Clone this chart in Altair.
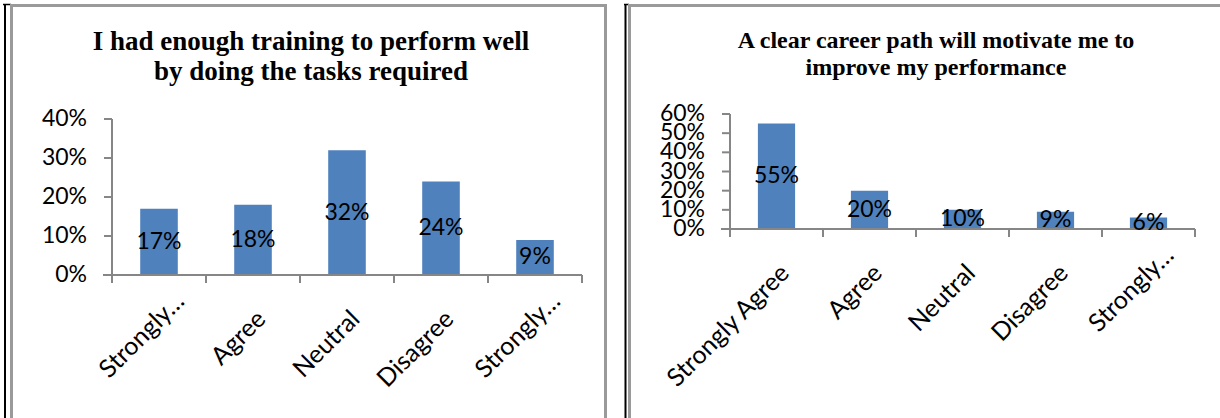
import altair as alt
import pandas as pd

# ---- data ----
categories = ["Strongly Agree", "Agree", "Neutral", "Disagree", "Strongly Disagree"]
training_pct = [17, 18, 32, 24, 9]
career_pct = [55, 20, 10, 9, 6]
training_ticks = [0, 10, 20, 30, 40]
career_ticks = [0, 10, 20, 30, 40, 50, 60]
training_title = ["I had enough training to perform well", "by doing the tasks required"]
career_title = ["A clear career path will motivate me to", "improve my performance"]

W, H = 1220, 418
BAR = "#4F81BD"
AXIS = "#868686"
FONT = "Lato"
SERIF = "Liberation Serif"
FRAME = "#9a9a9a"


def vrule(x, y1, y2, color, width):
    return alt.Chart(alt.Data(values=[{"k": 1}])).mark_rule(
        color=color, strokeWidth=width
    ).encode(x=alt.value(x), y=alt.value(y1), y2=alt.value(y2))


def hrule(x1, x2, y, color, width):
    return alt.Chart(alt.Data(values=[{"k": 1}])).mark_rule(
        color=color, strokeWidth=width
    ).encode(x=alt.value(x1), x2=alt.value(x2), y=alt.value(y))


def text_line(s, cx, base, size):
    return alt.Chart(alt.Data(values=[{"k": 1}])).mark_text(
        font=SERIF, fontWeight="bold", fontSize=size, align="center",
        baseline="alphabetic", color="#000000",
    ).encode(x=alt.value(cx), y=alt.value(base), text=alt.value(s))


def panel(values, ticks, ymax, xr, yr, trunc_test):
    df = pd.DataFrame({"category": categories, "pct": values})
    tdf = pd.DataFrame({"tick": ticks})
    base = alt.Chart(df)
    xscale = alt.Scale(domain=categories, range=xr, paddingInner=0, paddingOuter=0)
    yscale = alt.Scale(domain=[0, ymax], range=yr, nice=False, zero=True)
    xaxis_y = yr[0]

    def xf(**kw):
        return alt.X("category:N", sort=categories, scale=xscale, axis=None, **kw)

    def yf(field):
        return alt.Y(field, scale=yscale, axis=None)

    bars = base.mark_bar(color=BAR, width=alt.RelativeBandSize(0.4)).encode(
        x=xf(), y=yf("pct:Q"),
    )
    xdomain = hrule(xr[0] - 9, xr[1], xaxis_y, AXIS, 2)
    xticks = base.mark_rule(color=AXIS, strokeWidth=2).encode(
        x=xf(bandPosition=0), y=alt.value(xaxis_y), y2=alt.value(xaxis_y + 8),
    )
    xtick_end = base.transform_filter(
        f"datum.category == '{categories[-1]}'"
    ).mark_rule(color=AXIS, strokeWidth=2).encode(
        x=xf(bandPosition=1), y=alt.value(xaxis_y), y2=alt.value(xaxis_y + 8),
    )
    # full labels
    xlabels = base.transform_filter(f"!({trunc_test})").mark_text(
        font=FONT, fontSize=25, color="#000000", angle=315, align="right",
        baseline="middle", dx=6, dy=6,
    ).encode(x=xf(), y=alt.value(xaxis_y + 40), text=alt.Text("category:N"))
    # truncated labels (sit higher and further right, as in the reference)
    xlabels_trunc = base.transform_filter(f"({trunc_test})").transform_calculate(
        lab="'Strongly\u2026'"
    ).mark_text(
        font=FONT, fontSize=25, color="#000000", angle=315, align="right",
        baseline="middle", dx=15, dy=15,
    ).encode(x=xf(), y=alt.value(xaxis_y + 22), text=alt.Text("lab:N"))

    labels = base.transform_calculate(
        mid="datum.pct / 2", txt="datum.pct + '%'"
    ).mark_text(
        font=FONT, fontSize=23, color="#000000", baseline="middle", align="center"
    ).encode(x=xf(), y=yf("mid:Q"), text=alt.Text("txt:N"))

    ydomain = alt.Chart(tdf).mark_rule(color=AXIS, strokeWidth=2).encode(
        x=alt.value(xr[0]),
        y=yf("min(tick):Q"),
        y2=alt.Y2("max(tick):Q"),
    )
    ytick_marks = alt.Chart(tdf).mark_rule(color=AXIS, strokeWidth=2).encode(
        x=alt.value(xr[0] - 8), x2=alt.value(xr[0]), y=yf("tick:Q"),
    )
    ytick_labels = alt.Chart(tdf).transform_calculate(
        txt="datum.tick + '%'"
    ).mark_text(
        font=FONT, fontSize=23, color="#000000", align="right", baseline="middle"
    ).encode(x=alt.value(xr[0] - 25), y=yf("tick:Q"), text=alt.Text("txt:N"))

    return [bars, xdomain, xticks, xtick_end, xlabels, xlabels_trunc, ydomain,
            ytick_marks, ytick_labels, labels]


left_layers = panel(training_pct, training_ticks, 40, [112, 582], [275, 119],
                    "indexof(datum.category, 'Strongly') == 0")
right_layers = panel(career_pct, career_ticks, 60, [730, 1195], [229, 114],
                     "datum.category == 'Strongly Disagree'")

frames = [
    vrule(5, 4, H, "#000000", 2),
    hrule(3, 11, 4.5, "#000000", 1.5),
    vrule(11.5, 4, H, FRAME, 3),
    hrule(10, 607, 5.5, FRAME, 3),
    vrule(605.5, 4, H, FRAME, 3),
    vrule(625.5, 4, H, "#000000", 2),
    hrule(624, 629, 4.5, "#000000", 1.5),
    vrule(629.5, 4, H, FRAME, 3),
    hrule(628, W, 5.5, FRAME, 3),
]
titles = [
    text_line(training_title[0], 311, 50, 27),
    text_line(training_title[1], 311, 80, 27),
    text_line(career_title[0], 936, 48, 24),
    text_line(career_title[1], 936, 75, 24),
]

chart = alt.layer(*left_layers, *right_layers, *frames, *titles).resolve_scale(
    x="independent", y="independent"
).properties(
    width=W, height=H, padding=0, background="white",
    autosize=alt.AutoSizeParams(type="none"),
).configure_view(stroke=None)

chart.save("out.html", embed_options={"renderer": "svg", "actions": False})
